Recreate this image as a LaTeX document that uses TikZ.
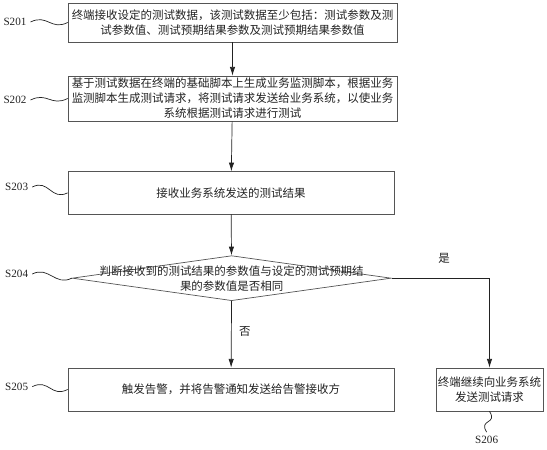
\documentclass[tikz,border=0pt]{standalone}
\usepackage{fontspec}
\setmainfont{Liberation Serif}
\newfontfamily\cjk{Noto Sans CJK SC}
\usetikzlibrary{positioning, calc, arrows.meta, shapes.geometric}
\definecolor{Ink}{HTML}{222222}
\definecolor{Frame}{HTML}{555555}
\tikzset{
    stepbox/.style={rectangle, draw=Frame, line width=0.6pt, align=center, text=Ink, font=\cjk\fontsize{9.8}{12.8}\selectfont, inner sep=0pt},
    decision/.style={diamond, draw=Frame, line width=0.6pt, inner sep=0pt},
    arrow/.style={-{Latex[length=2.6mm,width=1.6mm]}, line width=0.6pt, color=Ink},
    wave/.style={line width=0.6pt, color=Ink},
    steplabel/.style={font=\fontsize{9.5}{10}\selectfont, text=Ink},
    cjklabel/.style={font=\cjk\fontsize{9.8}{12.8}\selectfont, text=Ink, align=center},
}

\begin{document}
\begin{tikzpicture}
        \useasboundingbox (0,0) rectangle (16.41,-13.5);

        % Boxes
        \node[stepbox, minimum width=9.87cm, minimum height=1.17cm] (s201) at (6.975,-0.675)
            {终端接收设定的测试数据，该测试数据至少包括：测试参数及测\\试参数值、测试预期结果参数及测试预期结果参数值};
        \node[stepbox, minimum width=9.87cm, minimum height=1.35cm] (s202) at (6.975,-2.955)
            {基于测试数据在终端的基础脚本上生成业务监测脚本，根据业务\\监测脚本生成测试请求，将测试请求发送给业务系统，以使业务\\系统根据测试请求进行测试};
        \node[stepbox, minimum width=9.78cm, minimum height=1.27cm] (s203) at (6.93,-5.785)
            {接收业务系统发送的测试结果};
        \node[decision, minimum width=9.57cm, minimum height=1.35cm,
              label={[cjklabel]center:判断接收到的测试结果的参数值与设定的测试预期结\\果的参数值是否相同}] (s204) at (6.95,-8.345) {};
        \node[stepbox, minimum width=9.78cm, minimum height=1.29cm] (s205) at (6.93,-11.685)
            {触发告警，并将告警通知发送给告警接收方};
        \node[stepbox, minimum width=3.21cm, minimum height=1.29cm] (s206) at (14.685,-11.685)
            {终端继续向业务系统\\发送测试请求};

        % Arrows
        \draw[arrow] (s201) -- (s202);
        \draw[arrow] (s202) -- (s203);
        \draw[arrow] (s203) -- (s204);
        \draw[arrow] (s204) -- node[cjklabel, right=3pt, pos=0.45] (no) {否} (s205);
        \draw[arrow] (s204.east) -| (s206.north);
        \node[cjklabel] (yes) at (13.32,-7.74) {是};

        % Step labels
        \node[steplabel] (l201) at (0.45,-0.66) {S201};
        \node[steplabel] (l202) at (0.45,-3.0) {S202};
        \node[steplabel] (l203) at (0.5,-5.61) {S203};
        \node[steplabel] (l204) at (0.5,-8.22) {S204};
        \node[steplabel] (l205) at (0.5,-11.6) {S205};
        \node[steplabel] (l206) at (14.6,-13.2) {S206};

        \draw[wave] (l201.east) .. controls +(0.5,0.25) and +(-0.5,-0.25) .. (s201.west);
        \draw[wave] (l202.east) .. controls +(0.5,0.25) and +(-0.5,-0.25) .. (s202.west);
        \draw[wave] (l203.east) .. controls +(0.5,0.25) and +(-0.5,-0.25) .. (s203.west);
        \draw[wave] (l204.east) .. controls +(0.5,0.25) and +(-0.5,-0.25) .. (s204.west);
        \draw[wave] (l205.east) .. controls +(0.5,0.25) and +(-0.5,-0.25) .. (s205.west);
        \draw[wave] (s206.south) .. controls +(0.25,-0.4) and +(-0.25,0.4) .. (l206.north);
    \end{tikzpicture}
\end{document}
